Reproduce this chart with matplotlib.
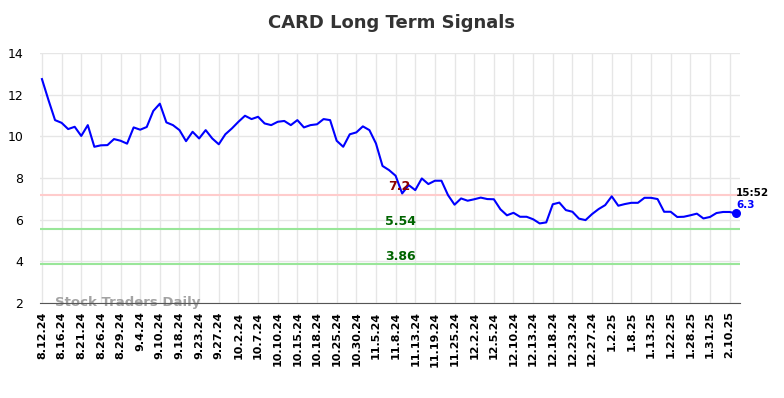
import numpy as np
import matplotlib.pyplot as plt

ticker = "CARD"
last_time = "15:52"

prices = [
    12.75, 11.74, 10.78, 10.65, 10.35, 10.46, 10.02, 10.54, 9.50, 9.57,
    9.58, 9.87, 9.79, 9.65, 10.43, 10.32, 10.45, 11.22, 11.57, 10.67,
    10.54, 10.30, 9.77, 10.22, 9.90, 10.30, 9.90, 9.62, 10.10, 10.38,
    10.70, 10.99, 10.83, 10.94, 10.62, 10.54, 10.70, 10.74, 10.54, 10.78,
    10.43, 10.54, 10.58, 10.83, 10.78, 9.79, 9.50, 10.10, 10.19, 10.48,
    10.30, 9.66, 8.58, 8.38, 8.11, 7.26, 7.66, 7.42, 7.98, 7.71,
    7.87, 7.87, 7.18, 6.72, 7.02, 6.91, 6.98, 7.06, 6.99, 6.98,
    6.50, 6.21, 6.33, 6.14, 6.14, 6.02, 5.82, 5.87, 6.74, 6.82,
    6.46, 6.38, 6.05, 5.98, 6.27, 6.51, 6.70, 7.12, 6.67, 6.75,
    6.81, 6.81, 7.05, 7.05, 6.99, 6.38, 6.38, 6.13, 6.14, 6.21,
    6.29, 6.06, 6.13, 6.32, 6.37, 6.37, 6.30,
]

tick_labels = [
    "8.12.24", "8.16.24", "8.21.24", "8.26.24", "8.29.24", "9.4.24",
    "9.10.24", "9.18.24", "9.23.24", "9.27.24", "10.2.24", "10.7.24",
    "10.10.24", "10.15.24", "10.18.24", "10.25.24", "10.30.24", "11.5.24",
    "11.8.24", "11.13.24", "11.19.24", "11.25.24", "12.2.24", "12.5.24",
    "12.10.24", "12.13.24", "12.18.24", "12.23.24", "12.27.24", "1.2.25",
    "1.8.25", "1.13.25", "1.22.25", "1.28.25", "1.31.25", "2.10.25",
]

resistance = 7.2
supports = [5.54, 3.86]

x = np.arange(len(prices))
tick_pos = x[::3][: len(tick_labels)]

fig = plt.figure(figsize=(7.84, 3.98), dpi=100)
ax = fig.add_axes([0.051, 0.2387, 0.893, 0.628])

ax.plot(x, prices, color="blue", linewidth=1.5, zorder=3)
ax.scatter([x[-1]], [prices[-1]], color="blue", s=30, zorder=4)

ax.axhline(resistance, color="#ffcccc", linewidth=1.5, zorder=2)
for s in supports:
    ax.axhline(s, color="#99e699", linewidth=1.5, zorder=2)

mid = len(prices) / 2 + 1
ax.text(mid, resistance + 0.08, f"{resistance:g}", color="darkred",
        fontsize=9, fontweight="bold", ha="center", va="bottom")
for s in supports:
    ax.text(mid + 0.3, s + 0.08, f"{s:g}", color="darkgreen",
            fontsize=9, fontweight="bold", ha="center", va="bottom")

ax.text(x[-1], prices[-1] + 1.0, last_time, color="black",
        fontsize=7.5, fontweight="bold", ha="left", va="center")
ax.text(x[-1], prices[-1] + 0.4, f"{prices[-1]:g}", color="blue",
        fontsize=7.5, fontweight="bold", ha="left", va="center")

ax.text(2, 2.0, "Stock Traders Daily", color="#999999", fontsize=9.5,
        fontweight="bold", ha="left", va="center", alpha=0.9, zorder=1)

ax.set_xlim(-0.3, len(prices) - 0.4)
ax.set_ylim(2, 14)
ax.set_yticks(np.arange(2, 15, 2))
ax.set_xticks(tick_pos)
ax.set_xticklabels(tick_labels, rotation=90, fontsize=8, fontweight="bold")
ax.tick_params(axis="y", labelsize=9, length=0, pad=12)
ax.tick_params(axis="x", length=0, pad=6)
ax.grid(True, color="#e6e6e6", linewidth=1)
ax.set_axisbelow(True)

for side in ["top", "right", "left"]:
    ax.spines[side].set_visible(False)
ax.spines["bottom"].set_color("#555555")

fig.suptitle(f"{ticker} Long Term Signals", fontsize=13, fontweight="bold",
             color="#333333", y=0.965)

fig.savefig("out.png", dpi=100)
